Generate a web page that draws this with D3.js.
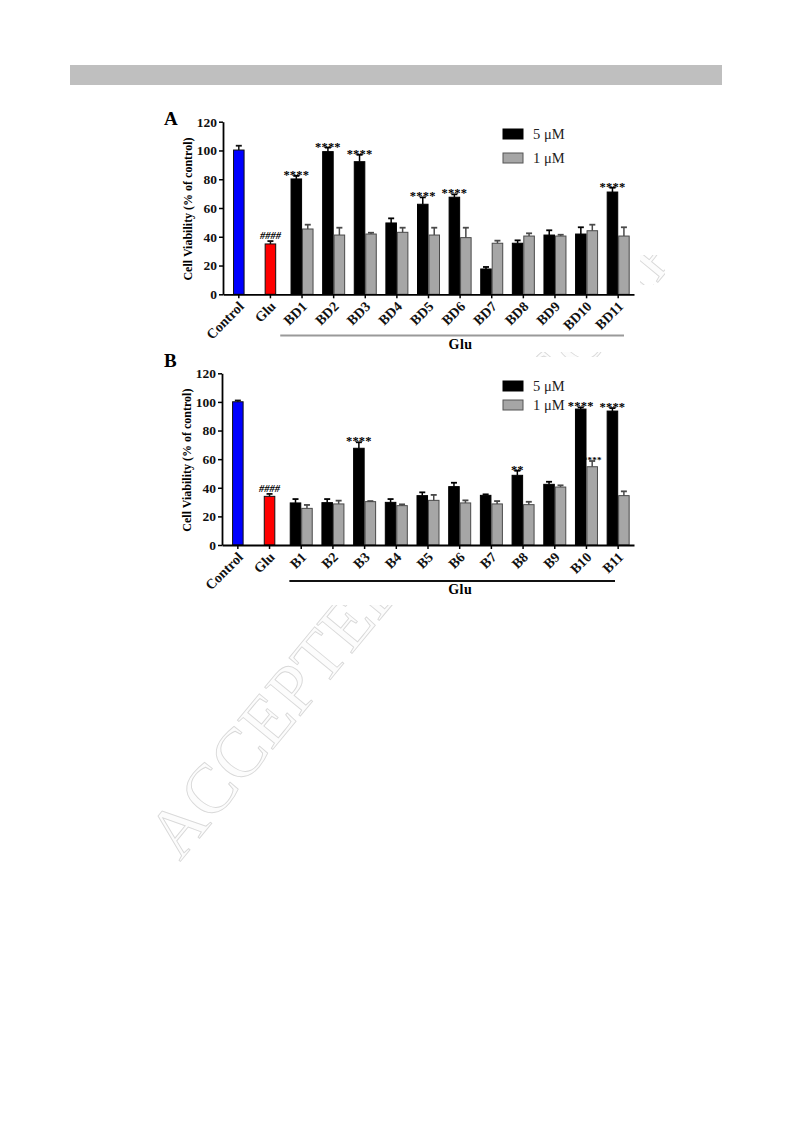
<!DOCTYPE html>
<html><head><meta charset="utf-8">
<script src="https://cdn.jsdelivr.net/npm/d3@7"></script>
<style>body{margin:0;background:#fff}svg{display:block}</style>
</head><body>
<script>
// ---------- DATA ----------
const singleCats = ["Control", "Glu"];
const seriesNames = ["5 \u03bcM", "1 \u03bcM"];
const yTicks = [0, 20, 40, 60, 80, 100, 120];

// Panel A
const compoundsA = ["BD1","BD2","BD3","BD4","BD5","BD6","BD7","BD8","BD9","BD10","BD11"];
const singleValsA = [100.3, 35];
const singleErrA = [3, 2];
const singleMarksA = ["", "####"];
const fiveA = [80.2, 99.2, 92.2, 49.6, 62.6, 67.5, 17.6, 35.5, 41.2, 41.9, 71.1];
const fiveErrA = [2.1, 2.8, 4.8, 3.2, 4.8, 2.0, 1.4, 2.0, 3.3, 4.7, 3.0];
const oneA = [45.4, 41.2, 41.9, 43.1, 41.2, 39.4, 35.5, 40.5, 40.5, 44.2, 40.5];
const oneErrA = [3.0, 5.1, 0.9, 3.2, 5.1, 6.9, 1.8, 1.9, 0.9, 4.2, 6.1];
const starsFiveA = ["****","****","****","","****","****","","","","","****"];
const starsOneA = ["","","","","","","","","","",""];

// Panel B
const compoundsB = ["B1","B2","B3","B4","B5","B6","B7","B8","B9","B10","B11"];
const singleValsB = [100.1, 34];
const singleErrB = [0.9, 1.7];
const singleMarksB = ["", "####"];
const fiveB = [29.4, 29.6, 67.6, 29.8, 34.5, 40.8, 34.7, 48.7, 42.4, 95.0, 93.6];
const fiveErrB = [2.7, 2.5, 4.2, 2.3, 2.3, 2.7, 0.7, 3.2, 1.8, 1.2, 2.1];
const oneB = [25.6, 28.7, 30.3, 27.5, 31.2, 29.4, 28.7, 28.2, 40.5, 54.7, 34.5];
const oneErrB = [2.4, 2.3, 0.4, 0.9, 3.8, 1.8, 2.0, 2.0, 1.2, 4.0, 3.0];
const starsFiveB = ["","","****","","","","","**","","****","****"];
const starsOneB = ["","","","","","","","","","****",""];

const groupLabel = "Glu";
const yLabel = "Cell Viability (% of control)";
const watermark = "ACCEPTED MANUSCRIPT";

// ---------- DRAW ----------
const W = 793, H = 1123;
const svg = d3.select("body").append("svg").attr("width", W).attr("height", H);
const serif = "'Liberation Serif','Times New Roman',serif";

svg.append("rect").attr("x", 70).attr("y", 65).attr("width", 652).attr("height", 20).attr("fill", "#bfbfbf");

// watermark (mostly hidden behind the figure images)
svg.append("text").attr("transform", "translate(180,862) rotate(-50.5)")
  .attr("font-family", serif).attr("font-size", 70)
  .attr("fill", "#fcfcfc").attr("stroke", "#d8d8d8").attr("stroke-width", 0.9)
  .text(watermark);

// figure image backgrounds (cover watermark)
const covers = [[158, 85, 482, 267], [158, 357, 482, 248], [640, 85, 153, 170], [665, 255, 128, 97], [640, 285, 25, 67]];
covers.forEach(c => svg.append("rect").attr("x", c[0]).attr("y", c[1]).attr("width", c[2]).attr("height", c[3]).attr("fill", "#fff"));

function panel(cfg) {
  const g = svg.append("g");
  const cats = singleCats.concat(cfg.compounds);
  const x = d3.scaleBand().domain(cats).range([cfg.left, cfg.right]).paddingInner(0).paddingOuter(0);
  const y = d3.scaleLinear().domain([0, 120]).range([cfg.bottom, cfg.top]);
  const sub = d3.scaleBand().domain(seriesNames).range([0, 22]).paddingInner(0.08);
  const barW = sub.bandwidth();
  const off = (x.bandwidth() - 22) / 2;

  function bar(x0, v, e, fill, stroke, mark, fs) {
    g.append("rect").attr("x", x0).attr("y", y(v)).attr("width", barW).attr("height", y(0) - y(v))
      .attr("fill", fill).attr("stroke", stroke).attr("stroke-width", 1);
    const cx = x0 + barW / 2;
    g.append("line").attr("x1", cx).attr("x2", cx).attr("y1", y(v)).attr("y2", y(v + e))
      .attr("stroke", stroke).attr("stroke-width", 1.5);
    g.append("line").attr("x1", cx - 3).attr("x2", cx + 3).attr("y1", y(v + e)).attr("y2", y(v + e))
      .attr("stroke", stroke).attr("stroke-width", 1.8);
    if (mark) {
      const isHash = mark[0] === "#";
      g.append("text").attr("x", cx).attr("y", isHash ? y(v + e) - 2 : y(v + e) + (fs > 10 ? 3 : 2))
        .attr("text-anchor", "middle").attr("font-family", serif)
        .attr("font-size", fs).attr("font-weight", "bold").attr("font-style", isHash ? "italic" : "normal")
        .attr("fill", "#000").attr("letter-spacing", isHash ? 0 : 0.2)
        .text(mark);
    }
  }

  // single bars
  const singleColors = ["#0000ff", "#ff0000"];
  singleCats.forEach((c, i) => {
    const x0 = x(c) + (x.bandwidth() - barW) / 2;
    bar(x0, cfg.singleVals[i], cfg.singleErr[i], singleColors[i], "#111", cfg.singleMarks[i], 10.5);
  });
  // grouped bars
  cfg.compounds.forEach((c, i) => {
    bar(x(c) + off + sub(seriesNames[0]), cfg.five[i], cfg.fiveErr[i], "#000", "#000", cfg.starsFive[i], 12.5);
    bar(x(c) + off + sub(seriesNames[1]), cfg.one[i], cfg.oneErr[i], "#a6a6a6", "#4a4a4a", cfg.starsOne[i], 9);
  });

  // y axis
  const ya = g.append("g").attr("transform", `translate(${cfg.left},0)`)
    .call(d3.axisLeft(y).tickValues(yTicks).tickSize(4).tickSizeOuter(0).tickPadding(2));
  ya.select(".domain").attr("stroke-width", 1.8);
  ya.selectAll(".tick line").attr("stroke-width", 1.5);
  ya.selectAll("text").attr("font-family", serif).attr("font-size", 13.5).attr("font-weight", "bold").attr("fill", "#111");

  // x axis
  const xa = g.append("g").attr("transform", `translate(0,${cfg.bottom})`)
    .call(d3.axisBottom(x).tickSize(4).tickSizeOuter(0));
  xa.select(".domain").attr("stroke-width", 1.8);
  xa.selectAll(".tick line").attr("stroke-width", 1.5);
  xa.selectAll("text").attr("font-family", serif).attr("font-size", 14).attr("font-weight", "bold").attr("fill", "#111")
    .attr("text-anchor", "end").attr("dy", 0).attr("y", 0)
    .attr("transform", "translate(6,13) rotate(-45)");

  // group line and label
  const c0 = cfg.compounds[0], c1 = cfg.compounds[cfg.compounds.length - 1];
  g.append("line").attr("x1", x(c0) + cfg.lineInset0).attr("x2", x(c1) + x.bandwidth() - cfg.lineInset1)
    .attr("y1", cfg.lineY).attr("y2", cfg.lineY).attr("stroke", cfg.lineColor).attr("stroke-width", 1.8);
  g.append("text").attr("x", (x(c0) + x(c1) + x.bandwidth()) / 2 + 0.5).attr("y", cfg.lineY + 13)
    .attr("text-anchor", "middle").attr("font-family", serif).attr("font-size", 14).attr("font-weight", "bold")
    .attr("letter-spacing", 0.5).text(groupLabel);

  // y label
  g.append("text").attr("transform", `translate(${cfg.left - 31},${(cfg.top + cfg.bottom) / 2 + 1}) rotate(-90)`)
    .attr("text-anchor", "middle").attr("font-family", serif).attr("font-size", 12).attr("font-weight", "bold")
    .text(yLabel);

  // panel letter
  g.append("text").attr("x", 164).attr("y", cfg.letterY).attr("font-family", serif).attr("font-size", 19)
    .attr("font-weight", "bold").text(cfg.letter);

  // legend
  const legColors = [["#000", "#000"], ["#a6a6a6", "#555"]];
  seriesNames.forEach((s, i) => {
    const ly = cfg.legY + i * cfg.legGap;
    g.append("rect").attr("x", 503).attr("y", ly).attr("width", 20).attr("height", 10)
      .attr("fill", legColors[i][0]).attr("stroke", legColors[i][1]).attr("stroke-width", 1);
    g.append("text").attr("x", 533).attr("y", ly + 10).attr("font-family", serif).attr("font-size", 14.5)
      .attr("fill", "#222").text(s);
  });
}

panel({letter: "A", letterY: 125, compounds: compoundsA, top: 121.7, bottom: 294.3, left: 223, right: 634,
  singleVals: singleValsA, singleErr: singleErrA, singleMarks: singleMarksA,
  five: fiveA, fiveErr: fiveErrA, one: oneA, oneErr: oneErrA, starsFive: starsFiveA, starsOne: starsOneA,
  lineY: 335.5, lineColor: "#9a9a9a", lineInset0: -6, lineInset1: 10, legY: 129, legGap: 24});

panel({letter: "B", letterY: 367, compounds: compoundsB, top: 373.3, bottom: 545, left: 222, right: 634,
  singleVals: singleValsB, singleErr: singleErrB, singleMarks: singleMarksB,
  five: fiveB, fiveErr: fiveErrB, one: oneB, oneErr: oneErrB, starsFive: starsFiveB, starsOne: starsOneB,
  lineY: 581, lineColor: "#111", lineInset0: 4, lineInset1: 19, legY: 381, legGap: 19});
</script>
</body></html>
